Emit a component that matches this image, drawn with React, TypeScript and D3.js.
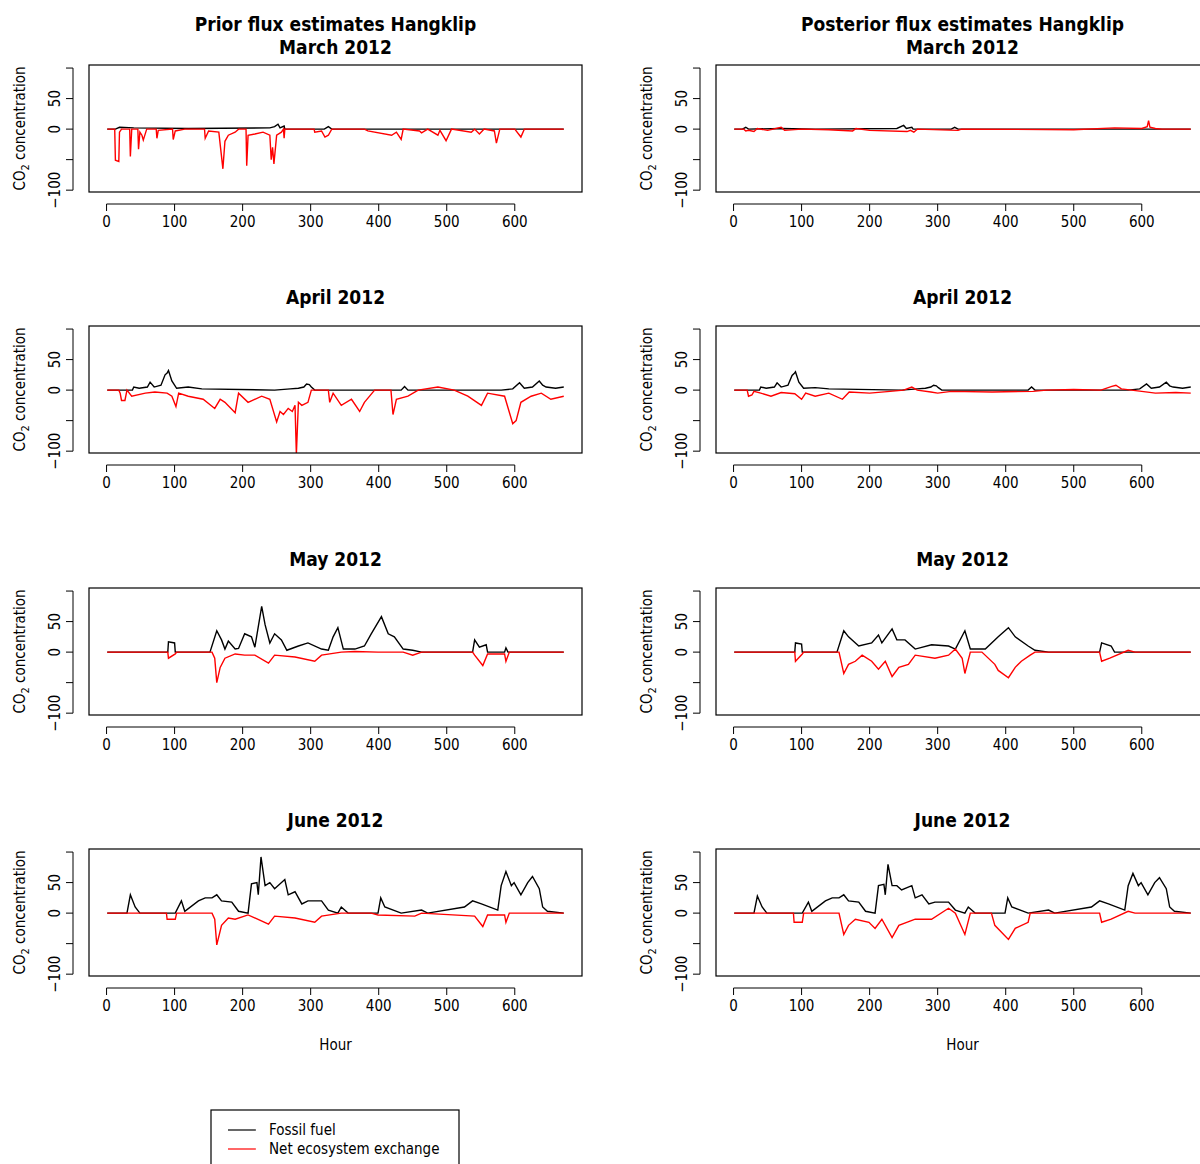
import React from 'react';
import * as d3 from 'd3';

type Pt = [number, number];

// [hour, value] key points
const marPriorFF: Pt[] = [[1,0],[13,0],[19,3],[40,2],[120,1],[240,2],[247,4],[252,8],[255,2],[261,5],[262,0],[320,0],[326,4],[331,0],[672,0]];
const marPriorNEE: Pt[] = [[1,0],[12,0],[13,-51],[18,-53],[19,-5],[22,0],[34,0],[35,-45],[37,0],[46,0],[47,-33],[49,-5],[52,-10],[54,-18],[59,0],[73,0],[74,-15],[76,-2],[97,0],[98,-17],[101,-3],[115,0],[144,0],[145,-15],[150,-3],[165,-5],[167,-25],[171,-65],[174,-20],[179,-10],[189,-5],[194,0],[205,0],[206,-60],[208,-10],[218,-8],[230,-5],[240,-10],[242,-50],[244,-30],[246,-57],[250,-10],[257,-5],[260,0],[261,-15],[262,0],[305,0],[306,-5],[316,-3],[321,-13],[326,-10],[331,0],[379,0],[384,-3],[419,-10],[426,-5],[433,-17],[436,0],[460,-3],[463,-6],[472,0],[487,-10],[490,-2],[499,-19],[507,0],[536,-5],[541,0],[548,-8],[555,0],[570,-3],[573,-23],[578,0],[600,0],[609,-13],[614,0],[672,0]];
const marPostFF: Pt[] = [[1,0],[13,0],[18,3],[22,0],[70,1],[120,0],[240,1],[250,6],[254,1],[262,3],[264,0],[320,0],[325,3],[330,0],[672,0]];
const marPostNEE: Pt[] = [[1,0],[15,0],[18,-3],[22,-2],[30,-4],[35,1],[50,-2],[70,3],[75,-2],[100,0],[140,-1],[175,-3],[180,1],[200,-2],[255,-4],[260,-2],[265,-5],[270,0],[330,-2],[335,0],[500,-1],[560,2],[600,1],[608,4],[610,14],[612,3],[620,1],[630,0],[672,0]];

const aprPriorFF: Pt[] = [[1,0],[38,0],[40,5],[48,3],[60,5],[64,13],[70,5],[80,8],[86,25],[89,28],[91,32],[96,15],[103,3],[120,5],[140,2],[247,0],[270,2],[282,3],[290,5],[294,10],[298,9],[301,5],[306,0],[433,0],[438,6],[443,0],[580,0],[597,2],[607,12],[614,3],[626,5],[636,15],[641,8],[646,5],[660,3],[672,5]];
const aprPriorNEE: Pt[] = [[1,0],[18,0],[20,-5],[22,-17],[27,-17],[30,0],[37,-10],[57,-5],[71,-3],[89,-5],[96,-10],[102,-27],[106,-5],[120,-10],[142,-15],[159,-30],[167,-15],[174,-20],[189,-37],[194,-5],[208,-20],[228,-10],[240,-15],[250,-52],[255,-35],[260,-40],[267,-30],[273,-35],[277,-25],[279,-105],[282,-20],[287,-25],[296,-20],[301,0],[326,0],[328,-20],[333,-5],[345,-25],[360,-15],[372,-35],[379,-20],[394,0],[418,0],[421,-40],[426,-15],[443,-10],[458,0],[487,5],[511,0],[531,-10],[551,-25],[560,-5],[585,-10],[597,-55],[602,-50],[609,-20],[624,-10],[639,-5],[653,-15],[672,-10]];
const aprPostFF: Pt[] = [[1,0],[38,0],[40,5],[48,3],[60,5],[64,12],[70,5],[80,8],[86,24],[89,27],[91,30],[96,13],[103,3],[120,4],[140,2],[247,0],[270,2],[282,3],[290,5],[294,8],[298,7],[301,4],[306,0],[433,0],[438,5],[443,0],[580,0],[597,2],[607,10],[614,3],[626,5],[636,13],[641,7],[646,5],[660,3],[672,5]];
const aprPostNEE: Pt[] = [[1,0],[20,0],[22,-10],[27,-8],[30,-2],[40,-5],[55,-10],[70,-4],[90,-6],[100,-15],[106,-5],[120,-10],[140,-5],[160,-15],[170,-3],[200,-5],[230,-2],[250,0],[262,5],[270,0],[290,-3],[300,-5],[320,-2],[380,-3],[440,-2],[460,0],[500,1],[540,0],[556,6],[562,8],[570,2],[600,-2],[620,-5],[650,-4],[672,-5]];

const mayPriorFF: Pt[] = [[1,0],[90,0],[91,17],[100,15],[101,0],[152,0],[162,35],[169,20],[174,5],[179,18],[189,5],[194,6],[203,30],[213,25],[218,8],[228,75],[233,45],[240,15],[247,30],[257,20],[265,3],[282,10],[296,15],[316,5],[326,3],[333,25],[340,40],[348,5],[365,5],[379,10],[389,30],[404,58],[414,30],[423,25],[436,5],[450,3],[463,0],[538,0],[541,20],[548,8],[558,12],[560,0],[585,0],[587,7],[590,0],[672,0]];
const mayPriorNEE: Pt[] = [[1,0],[90,0],[91,-10],[101,-3],[103,0],[155,0],[159,-10],[162,-50],[167,-25],[174,-10],[189,-3],[203,-5],[218,-5],[238,-18],[247,-5],[277,-8],[306,-15],[316,-5],[345,0],[365,1],[399,0],[436,0],[450,-5],[463,0],[538,0],[541,-5],[553,-22],[560,-3],[585,-3],[587,-15],[592,0],[672,0]];
const mayPostFF: Pt[] = [[1,0],[90,0],[91,15],[100,13],[101,0],[152,0],[162,35],[169,25],[184,10],[203,15],[213,28],[218,15],[233,38],[240,20],[252,20],[267,5],[291,12],[316,10],[326,5],[340,35],[348,5],[370,5],[389,25],[404,40],[414,25],[433,10],[443,3],[463,0],[538,0],[541,15],[555,10],[560,0],[672,0]];
const mayPostNEE: Pt[] = [[1,0],[90,0],[91,-15],[101,-3],[103,0],[155,0],[162,-35],[169,-20],[179,-15],[189,-5],[203,-15],[213,-28],[223,-15],[233,-40],[243,-25],[257,-20],[267,-5],[296,-10],[316,-5],[326,5],[336,-10],[340,-35],[348,0],[365,0],[384,-20],[389,-30],[404,-42],[414,-25],[423,-15],[436,-5],[443,0],[538,0],[541,-15],[553,-10],[580,3],[590,0],[672,0]];

const junPriorFF: Pt[] = [[1,0],[30,0],[35,30],[42,10],[49,0],[101,0],[110,20],[115,3],[135,20],[145,25],[155,25],[162,30],[169,20],[184,18],[194,3],[208,0],[213,48],[221,50],[223,30],[227,92],[233,45],[240,50],[247,40],[262,55],[267,30],[277,35],[287,15],[296,20],[316,20],[326,5],[340,0],[345,10],[355,0],[399,0],[403,25],[409,10],[433,0],[463,5],[472,0],[526,10],[538,20],[551,15],[575,5],[580,45],[587,68],[595,45],[599,50],[609,30],[619,50],[626,60],[636,40],[641,10],[648,3],[672,0]];
const junPriorNEE: Pt[] = [[1,0],[88,0],[89,-10],[101,-10],[103,0],[155,0],[159,-10],[162,-52],[169,-20],[179,-8],[189,-10],[208,-3],[238,-18],[247,-5],[277,-8],[306,-15],[316,-5],[345,0],[389,0],[399,-3],[453,-5],[463,0],[541,-5],[553,-22],[560,-3],[585,-3],[587,-15],[592,0],[672,0]];
const junPostFF: Pt[] = [[1,0],[30,0],[35,28],[42,10],[49,0],[101,0],[110,18],[115,3],[135,20],[145,25],[155,25],[162,30],[169,20],[184,18],[194,3],[208,0],[213,45],[221,47],[223,30],[227,80],[233,45],[240,45],[247,38],[262,45],[267,25],[277,30],[287,15],[296,18],[316,18],[326,5],[340,0],[345,10],[355,0],[399,0],[403,25],[409,10],[433,0],[463,5],[472,0],[526,10],[538,20],[551,15],[575,5],[580,45],[587,65],[595,45],[599,50],[609,30],[619,50],[626,58],[636,40],[641,10],[648,3],[672,0]];
const junPostNEE: Pt[] = [[1,0],[88,0],[89,-15],[101,-15],[103,0],[155,0],[162,-35],[169,-20],[179,-10],[199,-15],[208,-25],[218,-10],[233,-40],[243,-20],[267,-10],[291,-10],[316,8],[326,0],[340,-35],[348,0],[379,0],[384,-20],[404,-43],[414,-25],[433,-15],[436,0],[538,0],[541,-15],[555,-10],[580,3],[590,0],[672,0]];

const months = ['March 2012', 'April 2012', 'May 2012', 'June 2012'];
const priorFF = [marPriorFF, aprPriorFF, mayPriorFF, junPriorFF];
const priorNEE = [marPriorNEE, aprPriorNEE, mayPriorNEE, junPriorNEE];
const postFF = [marPostFF, aprPostFF, mayPostFF, junPostFF];
const postNEE = [marPostNEE, aprPostNEE, mayPostNEE, junPostNEE];
const xTicks = [0, 100, 200, 300, 400, 500, 600];
const yTicks = [-100, -50, 0, 50, 100];
const yLabels = [-100, 0, 50];
const legendItems = [{ label: 'Fossil fuel', color: '#000' }, { label: 'Net ecosystem exchange', color: '#ff0000' }];

const FONT = '"DejaVu Sans Condensed", "DejaVu Sans", sans-serif';
const BOX_W = 493;
const BOX_H = 127;
const colX = [89, 716];
const rowY = [65, 326, 588, 849];

const Panel: React.FC<{ x: number; y: number; ff: Pt[]; nee: Pt[]; title: string[]; id: string }> = ({ x, y, ff, nee, title, id }) => {
  const xs = d3.scaleLinear().domain([-25.8, 698.8]).range([0, BOX_W]);
  const ys = d3.scaleLinear().domain([-103, 105]).range([BOX_H, 0]);
  const line = d3.line<Pt>().x((d) => xs(d[0])).y((d) => ys(d[1]));
  return (
    <g transform={`translate(${x},${y})`}>
      <clipPath id={id}><rect x={0} y={0} width={BOX_W} height={BOX_H} /></clipPath>
      {title.map((t, i) => (
        <text key={i} x={BOX_W / 2} y={title.length === 1 ? -22 : -34 + i * 23} textAnchor="middle" fontWeight="bold" fontSize={19}>{t}</text>
      ))}
      <g clipPath={`url(#${id})`}>
        <path d={line(ff) || ''} fill="none" stroke="#000" strokeWidth={1.4} />
        <path d={line(nee) || ''} fill="none" stroke="#ff0000" strokeWidth={1.4} />
      </g>
      <rect x={0} y={0} width={BOX_W} height={BOX_H} fill="none" stroke="#000" strokeWidth={1.2} />
      {/* x axis */}
      <line x1={xs(0)} x2={xs(600)} y1={BOX_H + 12} y2={BOX_H + 12} stroke="#000" />
      {xTicks.map((t) => (
        <g key={t}>
          <line x1={xs(t)} x2={xs(t)} y1={BOX_H + 12} y2={BOX_H + 19} stroke="#000" />
          <text x={xs(t)} y={BOX_H + 35} textAnchor="middle" fontSize={15}>{t}</text>
        </g>
      ))}
      {/* y axis */}
      <line x1={-16} x2={-16} y1={ys(-100)} y2={ys(100)} stroke="#000" />
      {yTicks.map((t) => (
        <line key={t} x1={-16} x2={-23} y1={ys(t)} y2={ys(t)} stroke="#000" />
      ))}
      {yLabels.map((t) => (
        <text key={t} transform={`translate(-29,${ys(t)}) rotate(-90)`} textAnchor="middle" fontSize={15}>{t < 0 ? '\u2212' + Math.abs(t) : t}</text>
      ))}
      <text transform={`translate(-64,${BOX_H / 2}) rotate(-90)`} textAnchor="middle" fontSize={15}>
        CO<tspan dy={4} fontSize={11}>2</tspan><tspan dy={-4}> concentration</tspan>
      </text>
    </g>
  );
};

export default function App() {
  return (
    <svg width={1200} height={1164} style={{ position: 'absolute', left: 0, top: 0, background: '#fff' }} fontFamily={FONT}>
      <rect width={1200} height={1164} fill="#fff" />
      {months.map((m, i) => (
        <React.Fragment key={m}>
          <Panel id={`cl${i}`} x={colX[0]} y={rowY[i]} ff={priorFF[i]} nee={priorNEE[i]}
            title={i === 0 ? ['Prior flux estimates Hangklip', m] : [m]} />
          <Panel id={`cr${i}`} x={colX[1]} y={rowY[i]} ff={postFF[i]} nee={postNEE[i]}
            title={i === 0 ? ['Posterior flux estimates Hangklip', m] : [m]} />
        </React.Fragment>
      ))}
      <text x={colX[0] + BOX_W / 2} y={1050} textAnchor="middle" fontSize={15}>Hour</text>
      <text x={colX[1] + BOX_W / 2} y={1050} textAnchor="middle" fontSize={15}>Hour</text>
      <rect x={211} y={1110} width={248} height={60} fill="none" stroke="#000" strokeWidth={1.2} />
      {legendItems.map((d, i) => (
        <g key={d.label}>
          <line x1={228} x2={256} y1={1130 + i * 19} y2={1130 + i * 19} stroke={d.color} strokeWidth={1.2} />
          <text x={269} y={1135 + i * 19} fontSize={15}>{d.label}</text>
        </g>
      ))}
    </svg>
  );
}
